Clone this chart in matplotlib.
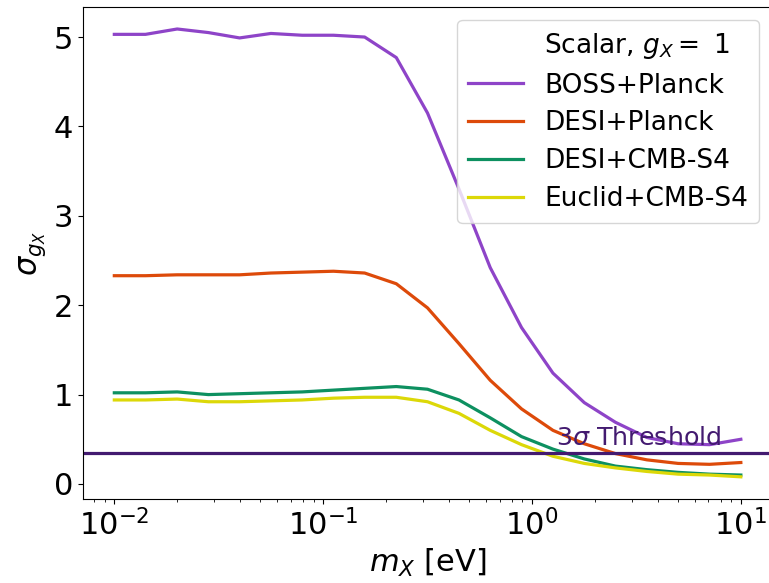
import matplotlib
matplotlib.use("Agg")
import matplotlib.pyplot as plt

mass = [0.01, 0.0141, 0.02, 0.0282, 0.0398, 0.0562, 0.0794, 0.112, 0.158, 0.224,
        0.316, 0.447, 0.631, 0.891, 1.26, 1.78, 2.51, 3.55, 5.01, 7.08, 10.0]

boss_planck = [5.03, 5.03, 5.09, 5.05, 4.99, 5.04, 5.02, 5.02, 5.00, 4.77,
               4.15, 3.30, 2.42, 1.75, 1.24, 0.91, 0.69, 0.52, 0.45, 0.44, 0.50]
desi_planck = [2.33, 2.33, 2.34, 2.34, 2.34, 2.36, 2.37, 2.38, 2.36, 2.24,
               1.97, 1.57, 1.16, 0.84, 0.60, 0.45, 0.34, 0.27, 0.23, 0.22, 0.24]
desi_s4 = [1.02, 1.02, 1.03, 1.00, 1.01, 1.02, 1.03, 1.05, 1.07, 1.09,
           1.06, 0.94, 0.74, 0.53, 0.39, 0.28, 0.20, 0.16, 0.13, 0.11, 0.10]
euclid_s4 = [0.94, 0.94, 0.95, 0.92, 0.92, 0.93, 0.94, 0.96, 0.97, 0.97,
             0.92, 0.79, 0.60, 0.44, 0.31, 0.23, 0.18, 0.14, 0.11, 0.10, 0.08]
threshold = 0.35

series_labels = ["BOSS+Planck", "DESI+Planck", "DESI+CMB-S4", "Euclid+CMB-S4"]
series_values = [boss_planck, desi_planck, desi_s4, euclid_s4]
series_colors = ["#8e44c8", "#dd4a0a", "#0d9060", "#dcd808"]

fig = plt.figure(figsize=(7.69, 5.83), dpi=100)
ax = fig.add_axes([83 / 769, 1 - 499 / 583, (772 - 83) / 769, (499 - 7) / 583])

ax.plot([], [], " ", label=r"Scalar, $g_X = $ 1")
for lab, vals, col in zip(series_labels, series_values, series_colors):
    ax.plot(mass, vals, color=col, lw=2.3, label=lab)

ax.axhline(threshold, color="#431a70", lw=2.3)
ax.text(1.3, threshold + 0.03, r"3$\sigma$ Threshold", color="#431a70",
        fontsize=18.3, ha="left", va="bottom")

ax.set_xscale("log")
ax.set_xlim(0.00708, 14.1)
ax.set_ylim(-0.168, 5.336)
ax.set_yticks([0, 1, 2, 3, 4, 5])
ax.tick_params(labelsize=22)
ax.set_xlabel(r"$m_X$ [eV]", fontsize=22)
ax.set_ylabel(r"$\sigma_{g_X}$", fontsize=22)

ax.legend(loc="upper right", fontsize=19, handlelength=2.1, labelspacing=0.45)

fig.savefig("out.png", dpi=100)
